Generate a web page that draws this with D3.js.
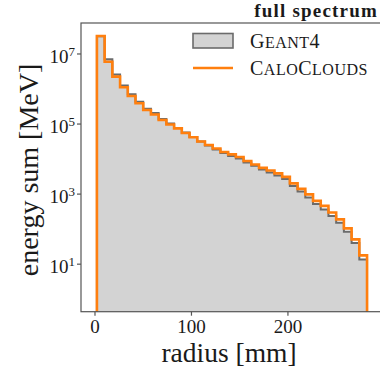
<!DOCTYPE html>
<html>
<head>
<meta charset="utf-8">
<script src="https://cdn.jsdelivr.net/npm/d3@7"></script>
<style>
  body { margin: 0; background: #fff; }
  svg { display: block; font-family: "Liberation Serif", "DejaVu Serif", serif; }
</style>
</head>
<body>
<div class="chart-wrapper"></div>
<script>
// bin edges of the radius histogram [mm]
const binEdges = d3.range(2, 283, 8)

// energy sum per radius bin [MeV]
const geant4 = [3.2e7, 7.1e6, 2.6e6, 1.25e6, 7.1e5, 4.35e5, 2.75e5, 2.07e5, 1.4e5, 1.04e5,
  7.7e4, 5.75e4, 4.29e4, 3.19e4, 2.45e4, 1.89e4, 1.5e4, 1.23e4, 1.045e4, 8.0e3,
  6.4e3, 5.07e3, 4.16e3, 3.42e3, 2.72e3, 1.71e3, 1.19e3, 805, 525, 366,
  239, 151, 84, 40.5, 13.7]
const caloClouds = [3.27e7, 6.0e6, 2.25e6, 1.12e6, 6.34e5, 3.92e5, 2.52e5, 1.88e5, 1.31e5, 9.7e4,
  7.5e4, 5.57e4, 4.2e4, 3.19e4, 2.53e4, 2.01e4, 1.6e4, 1.36e4, 1.15e4, 8.85e3,
  7.03e3, 5.6e3, 4.74e3, 3.9e3, 3.1e3, 2.02e3, 1.41e3, 980, 640, 460,
  300, 190, 105, 51, 17.8]

const xTicks = [0, 100, 200]
const yTicks = [1, 3, 5, 7]   // exponents

const width = 380, height = 372
const mLeft = 81, mTop = 23, mBottom = 311.7, mRight = 382

const orange = '#ff7f0e'
const edgeGray = '#6b6b6b'
const fillGray = '#d3d3d3'
const axisCol = '#555'
const textCol = '#1a1a1a'

let svg = d3.select('.chart-wrapper').append('svg')
    .attr('width', width)
    .attr('height', height)

let x = d3.scaleLinear().domain([-14.5, 297.5]).range([mLeft, mRight])
let y = d3.scaleLog().domain([0.44, 7.66e7]).range([mBottom, mTop])

svg.append('clipPath').attr('id', 'plotClip')
  .append('rect')
    .attr('x', mLeft).attr('y', mTop)
    .attr('width', mRight - mLeft).attr('height', mBottom - mTop)

// build step outline: down to baseline at both ends
let stepPoints = vals => {
    let pts = [[x(binEdges[0]), mBottom]]
    vals.forEach((v, i) => {
        pts.push([x(binEdges[i]), y(v)])
        pts.push([x(binEdges[i + 1]), y(v)])
    })
    pts.push([x(binEdges[binEdges.length - 1]), mBottom])
    return pts
}

let plot = svg.append('g').attr('clip-path', 'url(#plotClip)')
let line = d3.line()

plot.append('path')
    .attr('d', line(stepPoints(geant4)) + 'Z')
    .attr('fill', fillGray)
    .attr('stroke', 'none')

plot.append('path')
    .attr('d', line(stepPoints(geant4)))
    .attr('fill', 'none')
    .attr('stroke', edgeGray)
    .attr('stroke-width', 2)
    .attr('stroke-linejoin', 'miter')

plot.append('path')
    .attr('d', line(stepPoints(caloClouds)))
    .attr('fill', 'none')
    .attr('stroke', orange)
    .attr('stroke-width', 2.6)
    .attr('stroke-linejoin', 'miter')

// frame
svg.append('rect')
    .attr('x', mLeft).attr('y', mTop)
    .attr('width', mRight - mLeft).attr('height', mBottom - mTop)
    .attr('fill', 'none')
    .attr('stroke', axisCol)
    .attr('stroke-width', 1.2)

// x axis
let xAxis = svg.append('g')
xTicks.forEach(t => {
    xAxis.append('line')
        .attr('x1', x(t)).attr('x2', x(t))
        .attr('y1', mBottom).attr('y2', mBottom + 4)
        .attr('stroke', axisCol).attr('stroke-width', 1.2)
    xAxis.append('text')
        .attr('x', x(t)).attr('y', mBottom + 21.5)
        .attr('text-anchor', 'middle')
        .style('font-size', '19px')
        .style('fill', textCol)
        .text(t)
})

// y axis
let yAxis = svg.append('g')
yTicks.forEach(e => {
    let yy = y(Math.pow(10, e))
    yAxis.append('line')
        .attr('x1', mLeft - 4).attr('x2', mLeft)
        .attr('y1', yy).attr('y2', yy)
        .attr('stroke', axisCol).attr('stroke-width', 1.2)
    let t = yAxis.append('text')
        .attr('x', mLeft - 6).attr('y', yy + 9.3)
        .attr('text-anchor', 'end')
        .style('fill', textCol)
    t.append('tspan').style('font-size', '19px').text('10')
    t.append('tspan').attr('dy', -7).style('font-size', '13px').text(e)
})

// axis labels
svg.append('text')
    .attr('x', 229).attr('y', 362)
    .attr('text-anchor', 'middle')
    .style('font-size', '27.5px')
    .style('fill', textCol)
    .text('radius [mm]')

svg.append('text')
    .attr('transform', 'translate(37.5,170) rotate(-90)')
    .attr('text-anchor', 'middle')
    .style('font-size', '28px')
    .style('fill', textCol)
    .text('energy sum [MeV]')

// title
svg.append('text')
    .attr('x', 378).attr('y', 16.7)
    .attr('text-anchor', 'end')
    .style('font-size', '19px')
    .style('font-weight', 'bold')
    .style('letter-spacing', '1.2px')
    .style('fill', textCol)
    .text('full spectrum')

// legend
let legend = svg.append('g')
legend.append('rect')
    .attr('x', 193).attr('y', 33.5)
    .attr('width', 40).attr('height', 14.5)
    .attr('fill', fillGray)
    .attr('stroke', edgeGray)
    .attr('stroke-width', 1.6)
legend.append('line')
    .attr('x1', 193).attr('x2', 233)
    .attr('y1', 68).attr('y2', 68)
    .attr('stroke', orange)
    .attr('stroke-width', 2.6)

let smallCaps = (sel, parts) => {
    parts.forEach(p => {
        sel.append('tspan')
            .style('font-size', p[1] ? '20px' : '16px')
            .text(p[0])
    })
}
smallCaps(legend.append('text').attr('x', 250).attr('y', 48)
        .style('letter-spacing', '0.5px').style('fill', textCol),
    [['G', 1], ['EANT', 0], ['4', 1]])
smallCaps(legend.append('text').attr('x', 250).attr('y', 75)
        .style('letter-spacing', '0.5px').style('fill', textCol),
    [['C', 1], ['ALO', 0], ['C', 1], ['LOUDS', 0]])
</script>
</body>
</html>
